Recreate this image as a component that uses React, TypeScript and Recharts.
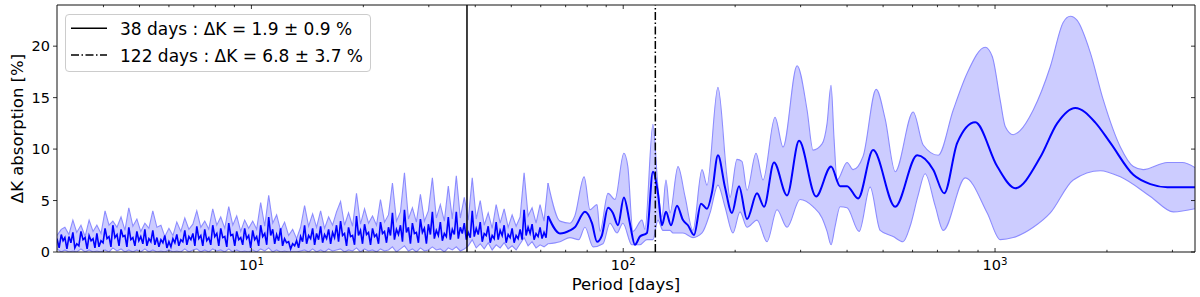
import React from 'react';
import { ComposedChart, Line, Area, XAxis, YAxis, ReferenceLine } from 'recharts';

const FONT = 'DejaVu Sans, Verdana, sans-serif';

// ---- noisy short-period part: band (periods in days) ----
const noisyPeriods = [
  3.00, 3.08, 3.15, 3.23, 3.31, 3.39, 3.48, 3.57, 3.66, 3.75,
  3.84, 3.94, 4.04, 4.14, 4.24, 4.35, 4.46, 4.57, 4.68, 4.80,
  4.92, 5.04, 5.17, 5.30, 5.43, 5.57, 5.71, 5.85, 6.00, 6.15,
  6.30, 6.46, 6.62, 6.79, 6.96, 7.13, 7.31, 7.49, 7.68, 7.87,
  8.07, 8.27, 8.48, 8.69, 8.91, 9.13, 9.36, 9.59, 9.83, 10.08,
  10.33, 10.59, 10.86, 11.13, 11.41, 11.69, 11.98, 12.28, 12.59, 12.91,
  13.23, 13.56, 13.90, 14.25, 14.61, 14.97, 15.35, 15.73, 16.13, 16.53,
  16.94, 17.37, 17.80, 18.25, 18.71, 19.17, 19.65, 20.15, 20.65, 21.17,
  21.70, 22.24, 22.80, 23.37, 23.95, 24.55, 25.17, 25.80, 26.44, 27.10,
  27.78, 28.48, 29.19, 29.92, 30.67, 31.43, 32.22, 33.03, 33.85, 34.70,
  35.57, 36.46, 37.37, 38.30, 39.26, 40.24, 41.25, 42.28, 43.34, 44.42,
  45.53, 46.67, 47.84, 49.04, 50.26, 51.52, 52.81, 54.13, 55.48, 56.87,
  58.29, 59.75, 61.24, 62.77,
];
const noisyHigh = [
  1.6, 2.2, 2.4, 1.7, 3.1, 1.9, 2.6, 1.5, 3.1, 2.0,
  2.6, 1.8, 4.0, 2.6, 3.0, 2.4, 3.4, 2.1, 4.3, 2.5,
  3.2, 2.0, 2.8, 2.3, 4.0, 2.4, 2.6, 1.5, 2.3, 1.6,
  2.9, 2.0, 3.3, 2.2, 2.7, 4.0, 2.4, 3.0, 2.2, 4.2,
  2.6, 3.4, 2.3, 4.4, 2.6, 3.5, 2.0, 3.1, 2.3, 3.0,
  2.2, 4.8, 2.5, 5.5, 2.8, 3.6, 2.1, 2.9, 1.6, 2.2,
  1.3, 2.4, 4.5, 2.5, 3.7, 2.4, 4.0, 2.3, 3.4, 2.6,
  3.9, 4.9, 2.6, 3.8, 2.5, 5.7, 2.7, 4.2, 2.8, 3.5,
  2.6, 5.1, 2.9, 3.6, 6.7, 3.0, 3.9, 7.7, 3.2, 4.3,
  2.9, 5.6, 3.0, 4.0, 7.2, 3.3, 4.6, 3.0, 6.4, 3.2,
  7.4, 3.3, 5.3, 3.1, 7.2, 3.2, 5.0, 2.6, 3.8, 2.3,
  4.6, 2.8, 4.2, 2.4, 3.6, 2.5, 3.4, 7.7, 3.5, 4.3,
  2.8, 4.6, 3.0, 6.7,
];
const noisyLow = [
  0.3, 0.0, 0.2, 0.0, 0.1, 0.0, 0.3, 0.0, 0.2, 0.0,
  0.1, 0.0, 0.2, 0.0, 0.4, 0.1, 0.3, 0.0, 0.2, 0.0,
  0.2, 0.0, 0.3, 0.0, 0.2, 0.0, 0.1, 0.0, 0.2, 0.0,
  0.1, 0.0, 0.3, 0.0, 0.2, 0.3, 0.0, 0.2, 0.0, 0.3,
  0.1, 0.2, 0.0, 0.3, 0.0, 0.2, 0.0, 0.1, 0.0, 0.2,
  0.0, 0.3, 0.1, 0.4, 0.0, 0.2, 0.0, 0.1, 0.0, 0.0,
  0.0, 0.1, 0.2, 0.0, 0.3, 0.0, 0.2, 0.0, 0.3, 0.1,
  0.2, 0.3, 0.0, 0.2, 0.1, 0.4, 0.0, 0.3, 0.1, 0.2,
  0.0, 0.3, 0.1, 0.2, 0.5, 0.0, 0.3, 0.6, 0.1, 0.3,
  0.0, 0.4, 0.1, 0.2, 0.5, 0.2, 0.3, 0.0, 0.4, 0.2,
  0.5, 0.1, 0.3, 0.6, 1.2, 0.4, 0.8, 0.3, 0.9, 0.2,
  0.7, 0.4, 0.9, 0.3, 0.6, 0.2, 0.8, 1.4, 0.6, 1.0,
  0.4, 0.7, 0.5, 0.8,
];

// ---- noisy short-period part: mean (denser sampling) ----
const noisyMeanPeriods = [
  3.00, 3.04, 3.08, 3.115, 3.15, 3.19, 3.23, 3.27, 3.31, 3.35,
  3.39, 3.435, 3.48, 3.525, 3.57, 3.615, 3.66, 3.705, 3.75, 3.795,
  3.84, 3.89, 3.94, 3.99, 4.04, 4.09, 4.14, 4.19, 4.24, 4.295,
  4.35, 4.405, 4.46, 4.515, 4.57, 4.625, 4.68, 4.74, 4.80, 4.86,
  4.92, 4.98, 5.04, 5.105, 5.17, 5.235, 5.30, 5.365, 5.43, 5.50,
  5.57, 5.64, 5.71, 5.78, 5.85, 5.925, 6.00, 6.075, 6.15, 6.225,
  6.30, 6.38, 6.46, 6.54, 6.62, 6.705, 6.79, 6.875, 6.96, 7.045,
  7.13, 7.22, 7.31, 7.40, 7.49, 7.585, 7.68, 7.775, 7.87, 7.97,
  8.07, 8.17, 8.27, 8.375, 8.48, 8.585, 8.69, 8.80, 8.91, 9.02,
  9.13, 9.245, 9.36, 9.475, 9.59, 9.71, 9.83, 9.955, 10.08, 10.205,
  10.33, 10.46, 10.59, 10.725, 10.86, 10.995, 11.13, 11.27, 11.41, 11.55,
  11.69, 11.835, 11.98, 12.13, 12.28, 12.435, 12.59, 12.75, 12.91, 13.07,
  13.23, 13.395, 13.56, 13.73, 13.90, 14.075, 14.25, 14.43, 14.61, 14.79,
  14.97, 15.16, 15.35, 15.54, 15.73, 15.93, 16.13, 16.33, 16.53, 16.735,
  16.94, 17.155, 17.37, 17.585, 17.80, 18.025, 18.25, 18.48, 18.71, 18.94,
  19.17, 19.41, 19.65, 19.90, 20.15, 20.40, 20.65, 20.91, 21.17, 21.435,
  21.70, 21.97, 22.24, 22.52, 22.80, 23.085, 23.37, 23.66, 23.95, 24.25,
  24.55, 24.86, 25.17, 25.485, 25.80, 26.12, 26.44, 26.77, 27.10, 27.44,
  27.78, 28.13, 28.48, 28.835, 29.19, 29.555, 29.92, 30.295, 30.67, 31.05,
  31.43, 31.825, 32.22, 32.625, 33.03, 33.44, 33.85, 34.275, 34.70, 35.135,
  35.57, 36.015, 36.46, 36.915, 37.37, 37.835, 38.30, 38.78, 39.26, 39.75,
  40.24, 40.745, 41.25, 41.765, 42.28, 42.81, 43.34, 43.88, 44.42, 44.975,
  45.53, 46.10, 46.67, 47.255, 47.84, 48.44, 49.04, 49.65, 50.26, 50.89,
  51.52, 52.165, 52.81, 53.47, 54.13, 54.805, 55.48, 56.175, 56.87, 57.58,
  58.29, 59.02, 59.75, 60.495, 61.24, 62.005, 62.77,
];
const noisyMean = [
  1.3, 0.4, 1.7, 1.1, 1.4, 0.3, 1.5, 0.9, 1.9, 0.4,
  0.8, 0.6, 2.0, 1.2, 1.4, 0.3, 1.6, 1.1, 1.3, 0.4,
  1.8, 0.5, 1.1, 0.9, 2.3, 1.3, 1.5, 0.5, 2.6, 1.4,
  1.7, 0.6, 2.2, 1.5, 1.6, 0.5, 2.4, 1.2, 1.4, 0.6,
  2.0, 1.1, 1.5, 0.8, 2.2, 0.6, 1.3, 1.0, 2.1, 0.7,
  1.4, 0.5, 1.2, 0.9, 1.6, 0.4, 1.0, 0.5, 1.3, 0.9,
  1.7, 0.6, 1.2, 1.0, 2.1, 0.7, 1.5, 1.2, 1.8, 0.6,
  2.5, 1.3, 1.6, 0.6, 2.2, 1.1, 1.4, 0.7, 2.6, 1.5,
  1.8, 0.6, 2.3, 1.4, 1.5, 0.5, 2.8, 1.6, 1.7, 0.6,
  2.0, 1.2, 1.4, 0.7, 2.3, 1.3, 1.6, 0.4, 2.1, 1.2,
  1.5, 0.6, 2.6, 1.5, 1.8, 0.7, 3.4, 1.6, 2.2, 0.8,
  1.7, 1.1, 2.3, 0.6, 1.3, 0.9, 1.0, 0.3, 0.8, 0.6,
  1.1, 0.4, 1.5, 1.0, 2.6, 0.8, 1.6, 1.3, 2.3, 0.7,
  1.8, 1.2, 2.5, 0.9, 1.7, 1.3, 2.2, 0.8, 1.9, 1.4,
  2.6, 1.0, 3.0, 1.6, 1.8, 0.6, 2.4, 1.5, 1.6, 0.7,
  3.5, 1.6, 2.1, 0.8, 2.7, 1.7, 1.9, 0.7, 2.3, 1.5,
  1.7, 0.8, 2.9, 1.8, 2.0, 0.9, 2.4, 1.6, 3.8, 1.2,
  2.2, 1.7, 2.6, 1.0, 4.1, 1.9, 2.4, 0.8, 2.8, 1.8,
  1.9, 0.9, 3.2, 1.9, 2.3, 0.8, 2.7, 1.7, 3.9, 1.3,
  2.1, 1.6, 2.9, 1.1, 1.8, 1.5, 3.4, 1.2, 2.2, 1.7,
  3.9, 1.3, 2.4, 1.8, 2.8, 1.2, 1.9, 1.4, 4.0, 1.5,
  2.3, 1.7, 2.9, 1.0, 1.8, 1.6, 2.5, 0.9, 1.6, 1.3,
  2.9, 1.2, 2.1, 1.6, 2.6, 0.9, 1.7, 1.4, 2.3, 0.9,
  1.6, 1.3, 2.2, 1.2, 4.1, 1.6, 2.4, 1.8, 2.7, 1.2,
  1.8, 1.5, 2.4, 1.3, 1.9, 1.4, 3.5,
];

// ---- smooth long-period part ----
const meanPeriods = [
  67.6, 71.9, 74.1, 78.9, 82.4, 85.0, 87.6, 91.0, 93.8, 96.8,
  100.4, 104.2, 107.5, 110.9, 115.8, 120.2, 124.0, 127.1, 130.3, 134.4,
  139.5, 144.8, 149.3, 155.0, 161.9, 168.0, 173.3, 179.8, 187.8, 196.1,
  204.8, 215.3, 229.0, 239.2, 254.4, 275.8, 297.1, 330.1, 362.2, 383.1,
  400.0, 428.3, 470.1, 538.8, 617.5, 682.0, 730.1, 791.3, 884.6, 1014,
  1133, 1323, 1469, 1644, 1859, 2043, 2355, 2617, 2907, 3450,
];
const meanValues = [
  1.8, 2.1, 2.4, 3.9, 2.8, 1.0, 1.6, 4.3, 3.8, 2.6,
  5.3, 2.8, 0.7, 1.5, 1.85, 7.8, 5.7, 2.6, 3.9, 2.6,
  4.5, 3.1, 2.6, 1.66, 4.7, 4.2, 5.8, 9.4, 6.3, 3.8,
  6.4, 3.2, 5.7, 4.4, 8.7, 5.5, 10.8, 5.4, 8.3, 6.4,
  6.4, 5.2, 9.9, 4.4, 9.4, 8.0, 5.7, 10.6, 12.6, 8.3,
  6.2, 9.2, 12.5, 14.0, 12.6, 10.6, 7.5, 6.6, 6.3, 6.3,
];
const highPeriods = [
  67.6, 71.9, 74.1, 78.5, 81.4, 85.0, 86.6, 91.0, 95.0, 100.4,
  102.9, 106.2, 112.3, 114.4, 120.2, 124.0, 127.1, 130.3, 133.6, 140.4,
  146.6, 154.0, 162.9, 168.0, 179.8, 190.1, 193.7, 202.3, 208.6, 215.3,
  227.6, 237.7, 256.0, 269.1, 293.5, 312.2, 324.0, 342.6, 353.4, 362.2,
  369, 376, 400.0, 415.2, 441.8, 478.9, 506.5, 538.8, 602.3, 640.9,
  703.4, 771.9, 841.9, 941.0, 983, 1033, 1065, 1119, 1168, 1267,
  1408, 1525, 1594, 1663, 1803, 1954, 2173, 2355, 2503, 2907,
  3188, 3450,
];
const highValues = [
  3.0, 2.8, 3.5, 7.3, 4.1, 4.6, 2.0, 5.7, 5.1, 9.6,
  8.3, 2.0, 3.1, 2.2, 12.4, 6.3, 3.4, 7.0, 3.8, 8.3,
  5.4, 2.1, 8.0, 6.5, 16.0, 7.3, 5.3, 9.0, 8.8, 6.0,
  9.6, 7.0, 13.1, 10.2, 18.1, 13.8, 9.9, 10.5, 12.5, 16.2,
  11.0, 7.0, 8.7, 8.0, 9.3, 15.8, 12.9, 7.8, 13.6, 10.4,
  9.4, 13.8, 17.4, 19.9, 19.0, 14.7, 12.2, 11.4, 11.8, 13.8,
  18.0, 22.3, 22.9, 22.5, 19.4, 14.8, 10.2, 8.3, 8.0, 8.7,
  8.7, 8.2,
];
const lowPeriods = [
  67.6, 71.9, 75.9, 78.9, 83.0, 88.2, 92.1, 96.2, 99.8, 105.5,
  110.9, 115.8, 120.2, 124.0, 127.9, 133.6, 136.1, 144.8, 154.0, 162.9,
  171.2, 179.8, 187.8, 197.3, 206.1, 215.3, 229.0, 243.6, 259.2, 275.8,
  298.9, 324.0, 342.6, 353.4, 362.2, 371.4, 383.1, 400.0, 431.0, 461.4,
  491.0, 532.2, 565.7, 591, 621, 648.5, 690, 725.5, 831.5, 952.8,
  1033, 1119, 1267, 1408, 1623, 1919, 2173, 2617, 3018, 3450,
];
const lowValues = [
  1.0, 1.4, 1.2, 2.4, 0.5, 0.8, 2.8, 1.85, 2.8, 0.7,
  0.7, 1.2, 1.2, 3.1, 2.1, 2.1, 1.85, 1.85, 1.4, 1.85,
  3.8, 6.5, 4.4, 1.85, 3.9, 2.4, 3.1, 1.0, 4.1, 2.4,
  5.1, 4.4, 3.3, 2.0, 0.7, 2.5, 4.4, 4.3, 2.0, 6.3,
  2.1, 1.5, 1.0, 2.5, 5.5, 7.6, 4.5, 2.1, 7.2, 3.8,
  1.2, 1.4, 2.4, 3.8, 7.0, 7.9, 7.3, 5.4, 3.9, 4.2,
];

// ---- axes, markers, legend ----
const xDomain = [3, 3450];
const yDomain = [0, 24];
const majorXTicks = [10, 100, 1000];
const minorXTicks = [4, 5, 6, 7, 8, 9, 20, 30, 40, 50, 60, 70, 80, 90, 200, 300, 400, 500, 600, 700, 800, 900, 2000, 3000];
const yTicks = [0, 5, 10, 15, 20];
const markerPeriods = [38, 122];
const legendLabels = ['38 days : ΔK = 1.9 ± 0.9 %', '122 days : ΔK = 6.8 ± 3.7 %'];
const xAxisTitle = 'Period [days]';
const yAxisTitle = 'ΔK absorption [%]';

const zip = (ps: number[], vs: number[]) => ps.map((p, i) => ({ p, v: vs[i] }));
const lastOf = (ps: number[], vs: number[]) => ({ p: ps[ps.length - 1], v: vs[vs.length - 1] });

const noisyHighData = zip(noisyPeriods, noisyHigh);
const noisyLowData = zip(noisyPeriods, noisyLow);
const noisyMeanData = zip(noisyMeanPeriods, noisyMean);
const smoothHighData = [lastOf(noisyPeriods, noisyHigh), ...zip(highPeriods, highValues)];
const smoothLowData = [lastOf(noisyPeriods, noisyLow), ...zip(lowPeriods, lowValues)];
const smoothMeanData = [lastOf(noisyMeanPeriods, noisyMean), ...zip(meanPeriods, meanValues)];
const allXTicks = [...minorXTicks, ...majorXTicks].sort((a, b) => a - b);

const BAND_FILL = '#ccccff';
const BAND_EDGE = '#8c8cff';
const MEAN = '#0000ff';
const FRAME = '#111';

const BottomTick = (props: any) => {
  const { x, y, payload } = props;
  const v = payload.value;
  const major = majorXTicks.includes(v);
  const exp = Math.round(Math.log10(v));
  return (
    <g>
      <line x1={x} x2={x} y1={y} y2={y - (major ? 4 : 2.2)} stroke="#000" strokeWidth={0.8} />
      {major && (
        <text x={x} y={y + 18} textAnchor="middle" fontFamily={FONT} fontSize={14.5} fill="#000">
          10
          <tspan dy={-5.5} fontSize={10.2}>{exp}</tspan>
        </text>
      )}
    </g>
  );
};

const TopTick = (props: any) => {
  const { x, y, payload } = props;
  const major = majorXTicks.includes(payload.value);
  return <line x1={x} x2={x} y1={y} y2={y + (major ? 4 : 2.2)} stroke="#000" strokeWidth={0.8} />;
};

const RightTick = (props: any) => {
  const { x, y } = props;
  return <line x1={x} x2={x - 4} y1={y} y2={y} stroke="#000" strokeWidth={0.8} />;
};

const bandProps = {
  dataKey: 'v',
  stroke: BAND_EDGE,
  strokeWidth: 1.1,
  fillOpacity: 1,
  dot: false,
  activeDot: false,
  isAnimationActive: false,
};

export default function App() {
  return (
    <div style={{ position: 'absolute', left: 0, top: 0, width: 1200, height: 297, background: '#fff' }}>
      <ComposedChart width={1200} height={297} margin={{ top: 4, right: 4, bottom: 0, left: 0 }}>
        <Area {...bandProps} data={noisyHighData} type="linear" fill={BAND_FILL} />
        <Area {...bandProps} data={smoothHighData} type="monotone" fill={BAND_FILL} />
        <Area {...bandProps} data={noisyLowData} type="linear" fill="#ffffff" />
        <Area {...bandProps} data={smoothLowData} type="monotone" fill="#ffffff" />
        <Line
          data={noisyMeanData}
          dataKey="v"
          type="linear"
          stroke={MEAN}
          strokeWidth={1.6}
          dot={false}
          activeDot={false}
          isAnimationActive={false}
        />
        <Line
          data={smoothMeanData}
          dataKey="v"
          type="monotone"
          stroke={MEAN}
          strokeWidth={2}
          dot={false}
          activeDot={false}
          isAnimationActive={false}
        />
        <ReferenceLine x={markerPeriods[0]} stroke="#000" strokeWidth={1.5} />
        <ReferenceLine x={markerPeriods[1]} stroke="#000" strokeWidth={1.5} strokeDasharray="8 2.5 1.5 2.5" />
        <XAxis
          dataKey="p"
          type="number"
          scale="log"
          domain={xDomain}
          allowDataOverflow
          ticks={allXTicks}
          interval={0}
          height={45}
          tickSize={0}
          tickMargin={0}
          tickLine={false}
          tick={<BottomTick />}
          axisLine={{ stroke: FRAME, strokeWidth: 1 }}
        />
        <XAxis
          xAxisId="top"
          orientation="top"
          dataKey="p"
          type="number"
          scale="log"
          domain={xDomain}
          allowDataOverflow
          ticks={allXTicks}
          interval={0}
          height={1}
          tickSize={0}
          tickMargin={0}
          tickLine={false}
          tick={<TopTick />}
          axisLine={{ stroke: FRAME, strokeWidth: 1 }}
        />
        <YAxis
          type="number"
          domain={yDomain}
          allowDataOverflow
          ticks={yTicks}
          interval={0}
          width={57}
          tickSize={4}
          tickMargin={3}
          tickLine={{ stroke: '#000', strokeWidth: 0.8 }}
          tick={{ fontSize: 14.5, fill: '#000', fontFamily: FONT }}
          axisLine={{ stroke: FRAME, strokeWidth: 1 }}
        />
        <YAxis
          yAxisId="right"
          orientation="right"
          type="number"
          domain={yDomain}
          allowDataOverflow
          ticks={yTicks}
          interval={0}
          width={1}
          tickSize={0}
          tickMargin={0}
          tickLine={false}
          tick={<RightTick />}
          axisLine={{ stroke: FRAME, strokeWidth: 1 }}
        />
      </ComposedChart>
      <svg
        width={1200}
        height={297}
        style={{ position: 'absolute', left: 0, top: 0, pointerEvents: 'none' }}
      >
        <text x={626} y={290} textAnchor="middle" fontFamily={FONT} fontSize={16.5} fill="#000">
          {xAxisTitle}
        </text>
        <text
          x={0}
          y={0}
          transform="translate(23, 128.5) rotate(-90)"
          textAnchor="middle"
          fontFamily={FONT}
          fontSize={16.5}
          fill="#000"
        >
          {yAxisTitle}
        </text>
        <rect x={65.5} y={14.5} width={305} height={57} rx={3.5} fill="#ffffff" fillOpacity={0.8} stroke="#cccccc" strokeWidth={1} />
        <line x1={71} x2={107} y1={28.3} y2={28.3} stroke="#000" strokeWidth={1.5} />
        <line x1={71} x2={107} y1={55} y2={55} stroke="#000" strokeWidth={1.5} strokeDasharray="8 2.5 1.5 2.5" />
        <text x={120} y={35} fontFamily={FONT} fontSize={17} fill="#000">
          {legendLabels[0]}
        </text>
        <text x={120} y={61.7} fontFamily={FONT} fontSize={17} fill="#000">
          {legendLabels[1]}
        </text>
      </svg>
    </div>
  );
}
